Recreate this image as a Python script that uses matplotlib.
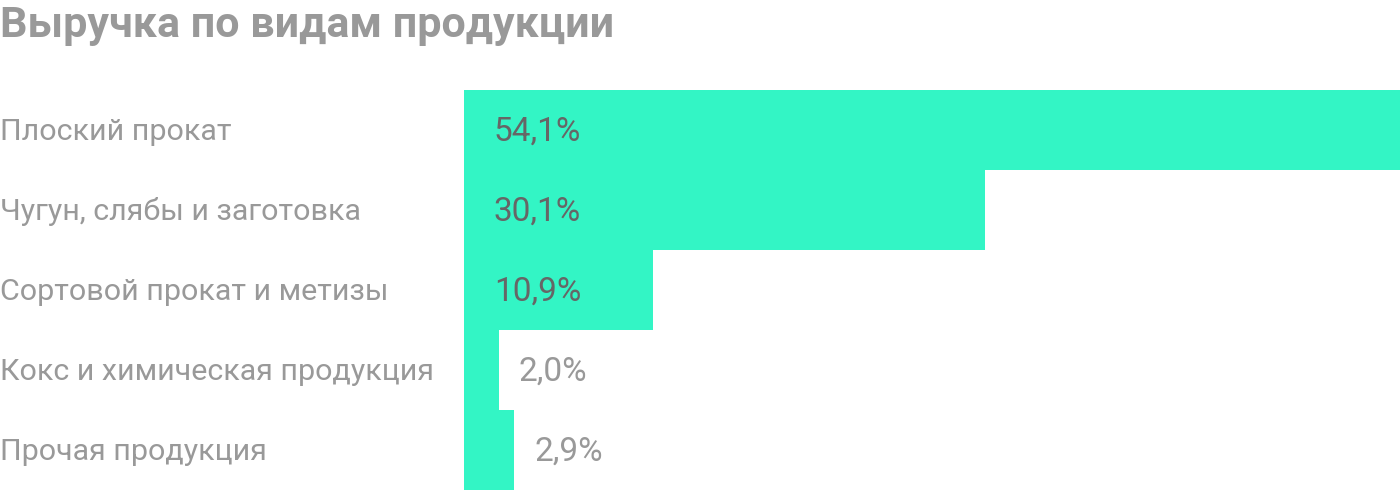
import matplotlib.pyplot as plt
from matplotlib.transforms import blended_transform_factory

# data
categories = [
    "Плоский прокат",
    "Чугун, слябы и заготовка",
    "Сортовой прокат и метизы",
    "Кокс и химическая продукция",
    "Прочая продукция",
]
shares = [54.1, 30.1, 10.9, 2.0, 2.9]
value_labels = ["54,1%", "30,1%", "10,9%", "2,0%", "2,9%"]

BAR = "#33f5c5"
GRAY = "#999999"
DARK = "#666666"

plt.rcParams["font.family"] = ["Roboto", "DejaVu Sans"]

fig = plt.figure(figsize=(14, 4.9), dpi=100)
ax = fig.add_axes([464 / 1400, 0, 936 / 1400, 400 / 490])

y = list(range(len(categories)))
ax.barh(y, shares, height=1.0, color=BAR, linewidth=0)
ax.set_xlim(0, max(shares))
ax.set_ylim(len(categories) - 0.5, -0.5)
ax.axis("off")

px = 54.1 / 936  # data units per pixel
dy = 2 / 80      # small downward nudge for text
for i, (v, lab) in enumerate(zip(shares, value_labels)):
    if v > 5:
        ax.text(30 * px, i + dy, lab, ha="left", va="center", fontsize=24, color=DARK)
    else:
        ax.text(v + 20 * px, i + dy, lab, ha="left", va="center", fontsize=24, color=GRAY)

trans = blended_transform_factory(fig.transFigure, ax.transData)
for i, c in enumerate(categories):
    ax.text(0, i + dy, c, transform=trans, ha="left", va="center",
            fontsize=21.9, color=GRAY, clip_on=False)

fig.text(0, 1 - 25 / 490, "Выручка по видам продукции", ha="left", va="center",
         fontsize=31, fontweight="bold", color=GRAY)

fig.savefig("out.png", dpi=100)
